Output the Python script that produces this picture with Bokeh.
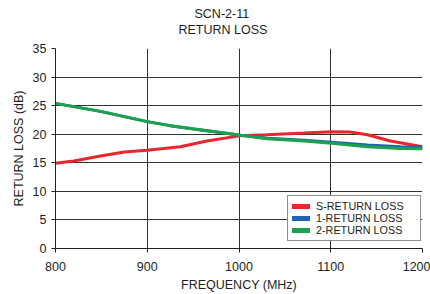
from bokeh.plotting import figure
from bokeh.models import Title, FixedTicker, Range1d, Legend, LegendItem
from bokeh.embed import file_html
from bokeh.resources import INLINE

# Data
freq_s = [800, 820, 849, 875, 900, 936, 965, 1002, 1031, 1071, 1101, 1121, 1140, 1165, 1200]
s_rl = [14.9, 15.3, 16.2, 16.9, 17.2, 17.8, 18.8, 19.75, 19.9, 20.2, 20.45, 20.4, 19.9, 18.8, 17.8]

freq_12 = [800, 849, 900, 925, 951, 1002, 1031, 1071, 1101, 1140, 1176, 1200]
rl_1 = [25.4, 24.0, 22.2, 21.5, 20.9, 19.8, 19.3, 18.95, 18.6, 18.1, 17.8, 17.75]
rl_2 = [25.4, 24.0, 22.2, 21.5, 20.9, 19.8, 19.2, 18.8, 18.4, 17.8, 17.5, 17.45]

x_ticks = [800, 900, 1000, 1100, 1200]
y_ticks = [0, 5, 10, 15, 20, 25, 30, 35]

labels = ["S-RETURN LOSS", "1-RETURN LOSS", "2-RETURN LOSS"]
colors = ["#e8262d", "#1f64b0", "#1ba24b"]

FONT = "Liberation Sans"
TXT = "#231f20"
GRID = "#333333"

p = figure(width=430, height=294, output_backend="svg", toolbar_location=None,
           x_range=Range1d(800, 1200), y_range=Range1d(0, 35),
           min_border_left=55, min_border_right=8, min_border_top=48, min_border_bottom=0)
p.outline_line_color = None
p.background_fill_color = "white"
p.border_fill_color = "white"

# Titles (last added is outermost)
p.add_layout(Title(text="RETURN LOSS", align="left", offset=123, text_font=FONT,
                   text_font_size="12.5px", text_font_style="normal", text_color=TXT,
                   vertical_align="top", standoff=20), "above")
p.add_layout(Title(text="SCN-2-11", align="left", offset=139, text_font=FONT,
                   text_font_size="12.5px", text_font_style="normal", text_color=TXT,
                   vertical_align="bottom", standoff=-16), "above")

for ax in (p.xaxis[0], p.yaxis[0]):
    ax.axis_line_color = TXT
    ax.major_tick_line_color = TXT
    ax.major_tick_in = 0
    ax.major_tick_out = 4
    ax.minor_tick_line_color = None
    ax.major_label_text_font = FONT
    ax.major_label_text_font_size = "12.5px"
    ax.major_label_text_color = TXT
    ax.axis_label_text_font = FONT
    ax.axis_label_text_font_size = "12.5px"
    ax.axis_label_text_font_style = "normal"
    ax.axis_label_text_color = TXT

p.xaxis.ticker = FixedTicker(ticks=x_ticks)
p.yaxis.ticker = FixedTicker(ticks=y_ticks)
p.xaxis.axis_label = "FREQUENCY (MHz)"
p.yaxis.axis_label = "RETURN LOSS (dB)"
p.xaxis.major_label_standoff = 9
p.xaxis.axis_label_standoff = 4
p.xaxis.axis_label_text_line_height = 0.6
p.yaxis.major_label_standoff = 5
p.yaxis.axis_label_standoff = 4

p.xgrid.grid_line_color = GRID
p.ygrid.grid_line_color = GRID
p.xgrid.grid_line_width = 1
p.ygrid.grid_line_width = 1

r_s = p.line(freq_s, s_rl, line_color=colors[0], line_width=3)
r_1 = p.line(freq_12, rl_1, line_color=colors[1], line_width=3)
r_2 = p.line(freq_12, rl_2, line_color=colors[2], line_width=3)

# thicker, round-capped swatches for the legend only (hidden copies of the series)
sw = [p.line(x, y, line_color=c, line_width=5, line_cap="round", visible=False)
      for x, y, c in zip([freq_s, freq_12, freq_12], [s_rl, rl_1, rl_2], colors)]

legend = Legend(items=[LegendItem(label=l, renderers=[s]) for l, s in zip(labels, sw)],
                location=(232, 7))
legend.label_text_font = FONT
legend.label_text_font_size = "10.8px"
legend.label_text_color = TXT
legend.glyph_width = 18
legend.glyph_height = 12
legend.label_height = 12
legend.label_width = 100
legend.label_standoff = 6
legend.spacing = 0
legend.padding = 4
legend.margin = 0
legend.border_line_color = TXT
legend.border_line_width = 1
legend.background_fill_alpha = 1
legend.inactive_fill_alpha = 0
legend.click_policy = "none"
p.add_layout(legend)

open("out.html", "w").write(file_html(p, INLINE))
